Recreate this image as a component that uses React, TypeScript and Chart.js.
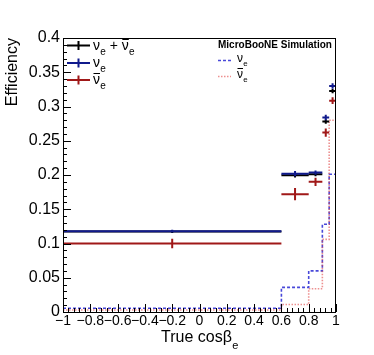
import React, { useEffect, useRef } from 'react';
import { Chart, registerables } from 'chart.js';

Chart.register(...registerables);

// ---------- data ----------
const binEdges = [-1, 0.6, 0.8, 0.9, 0.95, 1.0];
const effAll = [0.1175, 0.1995, 0.201, 0.278, 0.3225];
const errAll = [0.002, 0.003, 0.003, 0.003, 0.003];
const effNue = [0.118, 0.202, 0.2035, 0.284, 0.33];
const errNue = [0.002, 0.004, 0.003, 0.004, 0.004];
const effNuebar = [0.1, 0.172, 0.19, 0.262, 0.3085];
const errNuebar = [0.007, 0.009, 0.006, 0.006, 0.005];
const histNue = [0.0054, 0.036, 0.06, 0.128, 0.201];
const histNuebar = [0.003, 0.011, 0.034, 0.106, 0.28];

const xTicks = [-1, -0.8, -0.6, -0.4, -0.2, 0, 0.2, 0.4, 0.6, 0.8, 1];
const xTickLabels = ['\u22121', '\u22120.8', '\u22120.6', '\u22120.4', '\u22120.2', '0', '0.2', '0.4', '0.6', '0.8', '1'];
const yTicks = [0, 0.05, 0.1, 0.15, 0.2, 0.25, 0.3, 0.35, 0.4];
const yTickLabels = ['0', '0.05', '0.1', '0.15', '0.2', '0.25', '0.3', '0.35', '0.4'];

// ---------- styles ----------
const FONT = '"Liberation Sans", Arial, sans-serif';
const C_ALL = '#000000';
const C_NUE = '#101a8c';
const C_NUEBAR = '#a01818';
const C_HNUE = 'rgba(40,40,210,0.85)';
const C_HNUEBAR = 'rgba(225,70,70,0.6)';

function crossData(vals: number[], errs: number[]) {
  const pts: { x: number; y: number | null }[] = [];
  vals.forEach((v, i) => {
    const lo = binEdges[i];
    const hi = binEdges[i + 1];
    const c = (lo + hi) / 2;
    pts.push({ x: lo, y: v }, { x: hi, y: v }, { x: c, y: null });
    pts.push({ x: c, y: v - errs[i] }, { x: c, y: v + errs[i] }, { x: c, y: null });
  });
  return pts;
}

function histData(vals: number[]) {
  return binEdges.map((e, i) => ({ x: e, y: vals[Math.min(i, vals.length - 1)] }));
}

function drawNu(ctx: CanvasRenderingContext2D, x: number, base: number, size: number, bar: boolean) {
  ctx.font = `${size}px ${FONT}`;
  ctx.textAlign = 'left';
  ctx.textBaseline = 'alphabetic';
  ctx.fillText('\u03bd', x, base);
  const w = ctx.measureText('\u03bd').width;
  if (bar) {
    ctx.fillRect(x + 0.5, Math.round(base - size * 0.8), w - 0.5, 1);
  }
  const s = Math.round(size * 0.7);
  ctx.font = `${s}px ${FONT}`;
  ctx.fillText('e', x + w + 0.3, base + size * 0.33);
  return x + w + 0.3 + ctx.measureText('e').width;
}

const decorPlugin = {
  id: 'rootDecor',
  afterDraw(chart: any) {
    const { ctx, chartArea: a, scales } = chart;
    const xs = scales.x;
    const ys = scales.y;
    ctx.save();
    // frame
    ctx.strokeStyle = '#000';
    ctx.lineWidth = 1;
    ctx.setLineDash([]);
    ctx.strokeRect(Math.round(a.left) + 0.5, Math.round(a.top) + 0.5, Math.round(a.right - a.left) - 1, Math.round(a.bottom - a.top));
    // y ticks (inside)
    ctx.beginPath();
    for (let k = 0; k <= 40; k++) {
      const y = Math.round(ys.getPixelForValue(k * 0.01)) + 0.5;
      const len = k % 5 === 0 ? 8 : 4;
      ctx.moveTo(a.left, y);
      ctx.lineTo(a.left + len, y);
    }
    // x ticks (inside)
    for (let k = 0; k <= 50; k++) {
      const x = Math.round(xs.getPixelForValue(-1 + k * 0.04)) + 0.5;
      const len = k % 5 === 0 ? 8 : 4;
      ctx.moveTo(x, a.bottom);
      ctx.lineTo(x, a.bottom - len);
    }
    ctx.stroke();

    ctx.fillStyle = '#000';
    // x title
    ctx.textBaseline = 'alphabetic';
    ctx.textAlign = 'left';
    ctx.font = `16px ${FONT}`;
    const t1 = 'True cos\u03b2';
    const w1 = ctx.measureText(t1).width;
    ctx.font = `11px ${FONT}`;
    const w2 = ctx.measureText('e').width;
    const cx = (a.left + a.right) / 2;
    const start = cx - (w1 + w2) / 2;
    ctx.font = `16px ${FONT}`;
    ctx.fillText(t1, start, 342);
    ctx.font = `11px ${FONT}`;
    ctx.fillText('e', start + w1 + 0.5, 349);

    // y title
    ctx.save();
    ctx.translate(17, a.top);
    ctx.rotate(-Math.PI / 2);
    ctx.textAlign = 'right';
    ctx.font = `16px ${FONT}`;
    ctx.fillText('Efficiency', 0, 0);
    ctx.restore();

    // left legend: crosses
    const entries = [
      { color: C_ALL, yc: 45.5 },
      { color: C_NUE, yc: 63 },
      { color: C_NUEBAR, yc: 80 },
    ];
    ctx.lineWidth = 2;
    entries.forEach((e) => {
      ctx.strokeStyle = e.color;
      ctx.beginPath();
      ctx.moveTo(67, e.yc);
      ctx.lineTo(90, e.yc);
      ctx.moveTo(78.5, e.yc - 4.5);
      ctx.lineTo(78.5, e.yc + 4.5);
      ctx.stroke();
    });
    ctx.fillStyle = '#000';
    let x = drawNu(ctx, 93, 50, 14, false);
    ctx.font = `14px ${FONT}`;
    ctx.textAlign = 'left';
    ctx.fillText(' + ', x, 50);
    x += ctx.measureText(' + ').width;
    drawNu(ctx, x, 50, 14, true);
    drawNu(ctx, 93, 67, 14, false);
    drawNu(ctx, 93, 84, 14, true);

    // right legend
    ctx.font = `bold 10px ${FONT}`;
    ctx.textAlign = 'left';
    ctx.fillText('MicroBooNE Simulation', 218, 48);
    ctx.lineWidth = 1.5;
    ctx.strokeStyle = C_HNUE;
    ctx.setLineDash([3, 2]);
    ctx.beginPath();
    ctx.moveTo(218, 60.5);
    ctx.lineTo(231, 60.5);
    ctx.stroke();
    ctx.strokeStyle = C_HNUEBAR;
    ctx.setLineDash([1.5, 1.5]);
    ctx.beginPath();
    ctx.moveTo(218, 76.5);
    ctx.lineTo(231, 76.5);
    ctx.stroke();
    ctx.setLineDash([]);
    ctx.fillStyle = '#000';
    drawNu(ctx, 237, 62, 12, false);
    drawNu(ctx, 237, 78, 12, true);

    ctx.restore();
  },
};

export default function App() {
  const ref = useRef<HTMLCanvasElement>(null);
  useEffect(() => {
    const canvas = ref.current;
    if (!canvas) return;
    const crossStyle = (color: string, order: number) => ({
      borderColor: color,
      backgroundColor: color,
      borderWidth: 2,
      pointRadius: 0,
      pointHoverRadius: 0,
      spanGaps: false,
      tension: 0,
      borderCapStyle: 'butt' as const,
      order,
    });
    const chart = new Chart(canvas, {
      type: 'line',
      data: {
        datasets: [
          {
            label: 'hist nue',
            data: histData(histNue),
            borderColor: C_HNUE,
            borderWidth: 1.6,
            borderDash: [3, 2],
            pointRadius: 0,
            stepped: 'before',
            order: 6,
          } as any,
          {
            label: 'hist nuebar',
            data: histData(histNuebar),
            borderColor: C_HNUEBAR,
            borderWidth: 1.6,
            borderDash: [1.5, 1.5],
            pointRadius: 0,
            stepped: 'before',
            order: 5,
          } as any,
          { label: 'all', data: crossData(effAll, errAll), ...crossStyle(C_ALL, 3) } as any,
          { label: 'nue', data: crossData(effNue, errNue), ...crossStyle(C_NUE, 2) } as any,
          { label: 'nuebar', data: crossData(effNuebar, errNuebar), ...crossStyle(C_NUEBAR, 1) } as any,
        ],
      },
      options: {
        responsive: false,
        animation: false,
        devicePixelRatio: 1,
        events: [],
        layout: { padding: { left: 0, top: 38, right: 38, bottom: 0 } },
        plugins: { legend: { display: false }, tooltip: { enabled: false }, title: { display: false } },
        scales: {
          x: {
            type: 'linear',
            min: -1,
            max: 1,
            afterFit: (s: any) => {
              s.height = 43;
            },
            afterBuildTicks: (s: any) => {
              s.ticks = xTicks.map((v) => ({ value: v }));
            },
            ticks: {
              autoSkip: false,
              maxRotation: 0,
              minRotation: 0,
              padding: 1,
              color: '#000',
              font: { family: FONT, size: 14 },
              callback: (_v: any, i: number) => xTickLabels[i],
            },
            grid: { display: false, drawTicks: false },
            border: { display: false },
          },
          y: {
            type: 'linear',
            min: 0,
            max: 0.4,
            afterFit: (s: any) => {
              s.width = 63;
            },
            afterBuildTicks: (s: any) => {
              s.ticks = yTicks.map((v) => ({ value: v }));
            },
            ticks: {
              autoSkip: false,
              padding: 3,
              color: '#000',
              font: { family: FONT, size: 16 },
              callback: (_v: any, i: number) => yTickLabels[i],
            },
            grid: { display: false, drawTicks: false },
            border: { display: false },
          },
        },
      } as any,
      plugins: [decorPlugin],
    });
    return () => chart.destroy();
  }, []);
  return (
    <div style={{ position: 'absolute', left: 0, top: 0, width: 374, height: 355, background: '#fff' }}>
      <canvas ref={ref} width={374} height={355} style={{ display: 'block', width: 374, height: 355 }} />
    </div>
  );
}
